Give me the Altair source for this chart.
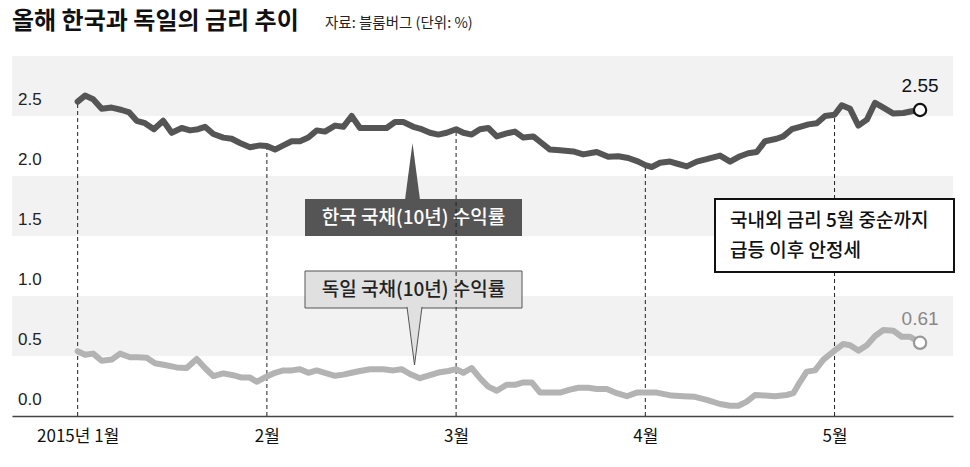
import json
import altair as alt
import pandas as pd

# ---------------- data ----------------
month_pos = [0, 1, 2, 3, 4]
month_labels = ["2015년 1월", "2월", "3월", "4월", "5월"]
y_ticks = [0.0, 0.5, 1.0, 1.5, 2.0, 2.5]
band_lo = [0.5, 1.5, 2.5]
band_hi = [1.0, 2.0, 3.0]

# position in months since 1 Jan (month ticks equally spaced)
kr_t = [0.000, 0.039, 0.082, 0.127, 0.180, 0.233, 0.273, 0.312, 0.356, 0.403, 0.452, 0.497,
        0.550, 0.594, 0.637, 0.673, 0.717, 0.770, 0.814, 0.858, 0.911, 0.964, 1.000, 1.043,
        1.087, 1.131, 1.175, 1.219, 1.263, 1.307, 1.360, 1.404, 1.448, 1.492, 1.536, 1.584,
        1.633, 1.677, 1.721, 1.774, 1.818, 1.862, 1.906, 1.950, 2.000, 2.038, 2.082, 2.126,
        2.170, 2.215, 2.267, 2.311, 2.355, 2.408, 2.452, 2.496, 2.549, 2.619, 2.672, 2.743,
        2.804, 2.857, 2.910, 2.963, 3.000, 3.034, 3.078, 3.131, 3.174, 3.219, 3.272, 3.324,
        3.395, 3.448, 3.501, 3.544, 3.589, 3.633, 3.694, 3.729, 3.774, 3.818, 3.862, 3.906,
        3.950, 4.000, 4.038, 4.082, 4.126, 4.171, 4.214, 4.258, 4.311, 4.364, 4.408, 4.452]
kr_v = [2.62, 2.67, 2.64, 2.56, 2.57, 2.55, 2.53, 2.46, 2.44, 2.39, 2.46, 2.36,
        2.40, 2.38, 2.39, 2.41, 2.35, 2.32, 2.31, 2.275, 2.24, 2.255, 2.25, 2.22,
        2.255, 2.29, 2.29, 2.32, 2.38, 2.37, 2.42, 2.41, 2.50, 2.40, 2.40, 2.40,
        2.40, 2.45, 2.45, 2.41, 2.39, 2.36, 2.345, 2.36, 2.39, 2.36, 2.345, 2.39,
        2.40, 2.33, 2.355, 2.37, 2.32, 2.33, 2.275, 2.22, 2.215, 2.205, 2.18, 2.20,
        2.16, 2.165, 2.15, 2.12, 2.09, 2.075, 2.11, 2.12, 2.10, 2.08, 2.12, 2.14,
        2.17, 2.12, 2.165, 2.19, 2.20, 2.29, 2.31, 2.33, 2.39, 2.41, 2.43, 2.44,
        2.50, 2.51, 2.59, 2.56, 2.42, 2.47, 2.61, 2.57, 2.52, 2.525, 2.54, 2.55]

de_t = [0.000, 0.039, 0.082, 0.127, 0.180, 0.224, 0.276, 0.320, 0.365, 0.409, 0.461, 0.523,
        0.576, 0.629, 0.673, 0.717, 0.770, 0.822, 0.867, 0.911, 0.946, 1.000, 1.043, 1.087,
        1.131, 1.175, 1.219, 1.263, 1.307, 1.360, 1.404, 1.448, 1.492, 1.545, 1.615, 1.668,
        1.712, 1.756, 1.809, 1.862, 1.915, 1.959, 2.000, 2.038, 2.082, 2.126, 2.170, 2.215,
        2.267, 2.311, 2.355, 2.400, 2.444, 2.496, 2.549, 2.602, 2.646, 2.698, 2.743, 2.796,
        2.849, 2.902, 2.955, 3.000, 3.060, 3.140, 3.201, 3.262, 3.324, 3.395, 3.448, 3.492,
        3.536, 3.580, 3.633, 3.686, 3.747, 3.782, 3.818, 3.853, 3.897, 3.941, 4.000, 4.046,
        4.082, 4.126, 4.171, 4.214, 4.258, 4.311, 4.355, 4.399, 4.452]
de_v = [0.54, 0.51, 0.52, 0.46, 0.47, 0.52, 0.49, 0.49, 0.485, 0.44, 0.425, 0.405,
        0.40, 0.475, 0.40, 0.333, 0.355, 0.34, 0.32, 0.32, 0.285, 0.33, 0.36, 0.38,
        0.38, 0.39, 0.36, 0.38, 0.36, 0.335, 0.345, 0.36, 0.375, 0.39, 0.39, 0.38,
        0.39, 0.35, 0.315, 0.34, 0.365, 0.375, 0.39, 0.36, 0.40, 0.315, 0.245, 0.21,
        0.26, 0.26, 0.28, 0.28, 0.195, 0.195, 0.195, 0.22, 0.235, 0.235, 0.225, 0.225,
        0.19, 0.165, 0.195, 0.195, 0.195, 0.17, 0.165, 0.16, 0.135, 0.10, 0.085, 0.085,
        0.12, 0.175, 0.17, 0.165, 0.175, 0.19, 0.285, 0.37, 0.38, 0.47, 0.545, 0.60,
        0.59, 0.545, 0.59, 0.667, 0.717, 0.71, 0.66, 0.66, 0.61]

title_text = "올해 한국과 독일의 금리 추이"
source_text = "자료: 블룸버그 (단위: %)"
kr_label = "한국 국채(10년) 수익률"
de_label = "독일 국채(10년) 수익률"
note_lines = ["국내외 금리 5월 중순까지", "급등 이후 안정세"]

# ---------------- build ----------------
W, H = 941, 360
KFONT = "Noto Sans CJK KR"

kr = pd.DataFrame({"t": kr_t, "v": kr_v})
de = pd.DataFrame({"t": de_t, "v": de_v})
kr_end = kr.tail(1).assign(lab=lambda d: d["v"].map(lambda x: f"{x:.2f}"))
de_end = de.tail(1).assign(lab=lambda d: d["v"].map(lambda x: f"{x:.2f}"))
lookup = dict(zip(kr_t, kr_v))
rules_df = pd.DataFrame({"t": month_pos, "zero": [0.0] * len(month_pos),
                         "v": [lookup[float(m)] for m in month_pos]})
one = pd.DataFrame({"k": [0]})

xs = alt.Scale(domain=[-0.347, 4.626], nice=False, zero=False)
ys = alt.Scale(domain=[0, 3], nice=False, zero=True)
x_axis = alt.Axis(values=month_pos, labelExpr=json.dumps(month_labels, ensure_ascii=False) + "[datum.value]",
                  title=None, grid=False, ticks=False, domainColor="#444", domainWidth=1.5,
                  labelFont="Liberation Sans Narrow, Noto Sans CJK KR", labelFontSize=17,
                  labelColor="#111", labelPadding=12, labelFlush=False)
X = alt.X("t:Q", scale=xs, axis=x_axis)

bands = alt.Chart(pd.DataFrame({"lo": band_lo, "hi": band_hi})).mark_rect(color="#f2f2f2").encode(
    x=alt.value(0), x2=alt.value(W),
    y=alt.Y("lo:Q", scale=ys, axis=None), y2="hi:Q")

ylabels = alt.Chart(pd.DataFrame({"v": y_ticks, "lab": [f"{v:.1f}" for v in y_ticks]})).mark_text(
    align="left", baseline="middle", dy=-16, fontSize=17, font="Liberation Sans", color="#222"
).encode(x=alt.value(6), y=alt.Y("v:Q", scale=ys, axis=None), text="lab:N")

# annotation boxes A & B
boxA = alt.Chart(one).mark_rect(fill="#555555").encode(
    x=alt.value(293), x2=alt.value(510), y=alt.value(143), y2=alt.value(180))
ptrA = alt.Chart(one).mark_point(shape="M -1 0.1 L 0 -7.47 L 1 0.1 Z", size=225, filled=True,
                                 fill="#555555", opacity=1, strokeWidth=0).encode(
    x=alt.value(400.5), y=alt.value(143))
txtA = alt.Chart(one).mark_text(fontSize=19, font=KFONT, fontWeight=500, color="white",
                                align="center", baseline="middle").encode(
    x=alt.value(401.5), y=alt.value(162), text=alt.value(kr_label))
boxB = alt.Chart(one).mark_rect(fill="#e0e0e0", stroke="#555555", strokeWidth=1).encode(
    x=alt.value(293), x2=alt.value(510), y=alt.value(215), y2=alt.value(252))
ptrB = alt.Chart(one).mark_point(shape="M -1 -0.15 L 0 7.6 L 1 -0.15", size=225, filled=True,
                                 fill="#e0e0e0", stroke="#555555", strokeWidth=1, opacity=1).encode(
    x=alt.value(402.5), y=alt.value(252))
txtB = alt.Chart(one).mark_text(fontSize=19, font=KFONT, fontWeight=500, color="#222",
                                align="center", baseline="middle").encode(
    x=alt.value(401.5), y=alt.value(234), text=alt.value(de_label))

rules = alt.Chart(rules_df).mark_rule(color="#222", strokeDash=[4, 3], strokeWidth=1).encode(
    x=X, y=alt.Y("zero:Q", scale=ys, axis=None), y2="v:Q")

kr_line = alt.Chart(kr).mark_line(color="#555555", strokeWidth=6, strokeJoin="round",
                                  strokeCap="round").encode(
    x=X, y=alt.Y("v:Q", scale=ys, axis=None))
de_line = alt.Chart(de).mark_line(color="#b3b3b3", strokeWidth=6, strokeJoin="round",
                                  strokeCap="round").encode(
    x=X, y=alt.Y("v:Q", scale=ys, axis=None))

kr_pt = alt.Chart(kr_end).mark_point(shape="circle", size=150, filled=True, fill="white",
                                     stroke="#111", strokeWidth=2.2, opacity=1).encode(
    x=X, y=alt.Y("v:Q", scale=ys, axis=None))
de_pt = alt.Chart(de_end).mark_point(shape="circle", size=150, filled=True, fill="white",
                                     stroke="#999", strokeWidth=2.2, opacity=1).encode(
    x=X, y=alt.Y("v:Q", scale=ys, axis=None))
kr_txt = alt.Chart(kr_end).mark_text(fontSize=19, font="Liberation Sans", color="#111",
                                     dy=-24, align="center", baseline="middle").encode(
    x=X, y=alt.Y("v:Q", scale=ys, axis=None), text="lab:N")
de_txt = alt.Chart(de_end).mark_text(fontSize=19, font="Liberation Sans", color="#888",
                                     dy=-24, align="center", baseline="middle").encode(
    x=X, y=alt.Y("v:Q", scale=ys, axis=None), text="lab:N")

boxC = alt.Chart(one).mark_rect(fill="white", stroke="#111", strokeWidth=2).encode(
    x=alt.value(703), x2=alt.value(942), y=alt.value(143), y2=alt.value(216))
txtC1 = alt.Chart(one).mark_text(fontSize=19, font=KFONT, fontWeight=500, color="#111",
                                 align="left", baseline="middle").encode(
    x=alt.value(718), y=alt.value(165), text=alt.value(note_lines[0]))
txtC2 = alt.Chart(one).mark_text(fontSize=19, font=KFONT, fontWeight=500, color="#111",
                                 align="left", baseline="middle").encode(
    x=alt.value(718), y=alt.value(195), text=alt.value(note_lines[1]))

title = alt.Chart(one).mark_text(fontSize=24, font=KFONT, fontWeight="bold", color="#111",
                                 align="left", baseline="middle").encode(
    x=alt.value(0), y=alt.value(-34), text=alt.value(title_text))
source = alt.Chart(one).mark_text(fontSize=14.5, font=KFONT, color="#222",
                                  align="left", baseline="middle").encode(
    x=alt.value(313), y=alt.value(-32), text=alt.value(source_text))

chart = alt.layer(
    bands, ylabels, boxA, ptrA, txtA, boxB, ptrB, txtB, rules, de_line, kr_line,
    kr_pt, de_pt, kr_txt, de_txt, boxC, txtC1, txtC2, title, source
).properties(
    width=W, height=H,
    autosize=alt.AutoSizeParams(type="none"),
    padding={"left": 12, "top": 56, "right": 17, "bottom": 51},
    background="white",
).configure_view(stroke=None)

chart.save("out.html", embed_options={"renderer": "svg", "actions": False})
